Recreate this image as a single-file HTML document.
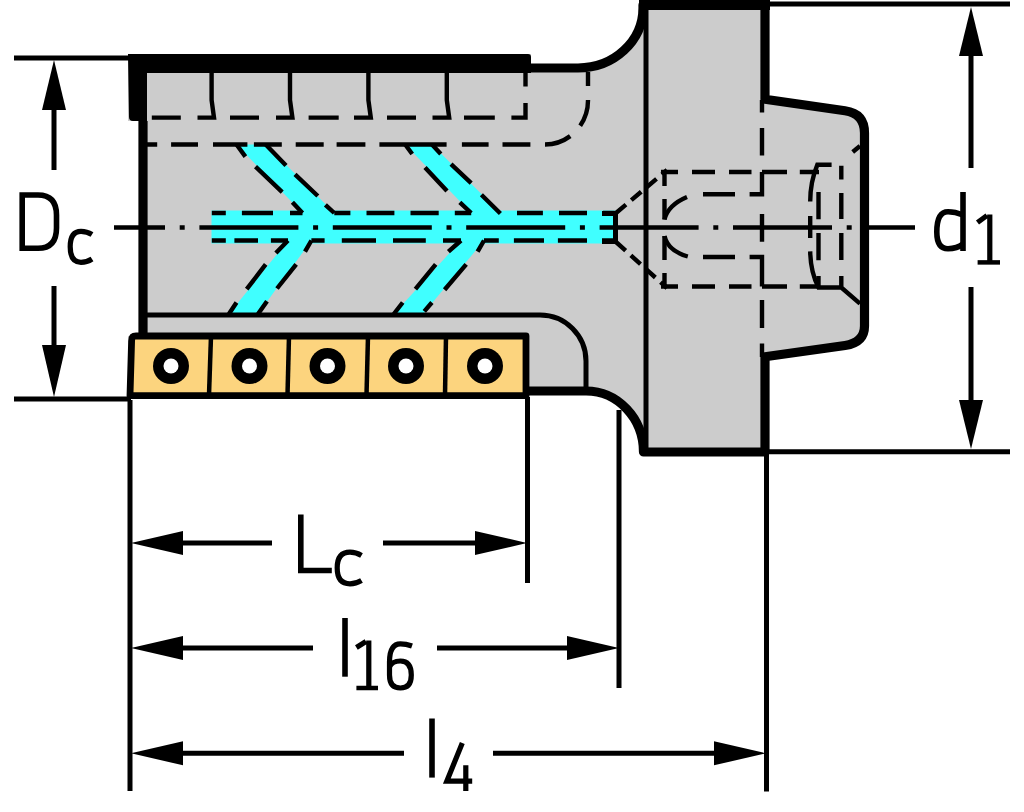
<!DOCTYPE html>
<html><head><meta charset="utf-8"><style>
html,body{margin:0;padding:0;background:#fff;width:1024px;height:812px;overflow:hidden}
svg{display:block}

</style></head><body><div id="w">
<svg width="1024" height="812" viewBox="0 0 1024 812">
<!-- body fill -->
<path fill="#cccccc" d="M128,54 H531 V64 H578 A65,60 0 0 0 643,4 V0 H769 V97 L845,107.7 Q868.5,110 868.5,133 V326 Q868.5,346 845,348 L769,355 V456 H643.5 A57.5,61 0 0 0 586,391 H527 V395 H131 L128,336 H139 V121 H128 Z"/>
<!-- coolant cyan -->
<g fill="#40ffff">
<rect x="211.5" y="210.5" width="404" height="33"/>
<polygon points="236.5,144.5 265.7,144.5 334.3,213 302.5,213"/>
<polygon points="288,240.5 311.4,240.5 258,314 229,314"/>
<polygon points="405.2,144.5 432,144.5 500.4,213 471.2,213"/>
<polygon points="461,240.5 484,240.5 423,314 393.8,314"/>
</g>
<!-- inserts -->
<rect x="131" y="336" width="395" height="59" fill="#fcd47e"/>

<!-- dashed lines (explicit segments) -->
<g fill="none" stroke="#000" stroke-width="4.4">
<path d="M146.4,144.5 H157.2 M171.1,144.5 H198 M213,144.5 H247.4 M253.9,144.5 H281.8 M295.7,144.5 H323.7 M336.6,144.5 H365.4 M379.4,144.5 H446.6 M461.9,144.5 H488.6 M502.5,144.5 H530.4"/>
<path d="M545,144.5 A43,44 0 0 0 588,100.5 V72" stroke-dasharray="27 14.4 27.4 14 14"/>
<path d="M211.8,213 H225.8 M241.9,213 H273 M290,213 H302.5 M334.3,213 H350.4 M366.5,213 H394.4 M410.5,213 H438.7 M454.8,213 H471.2 M517,213 H542.9 M559,213 H587 M603,213 H614.8"/>
<path d="M211.8,240.5 H225.8 M234.4,240.5 H258 M270.9,240.5 H288 M311.4,240.5 H324.6 M341.8,240.5 H376 M393,240.5 H425.8 M443,240.5 H461 M484,240.5 H498.8 M513.9,240.5 H544 M557.9,240.5 H587 M602,240.5 H614.8"/>
<path d="M236.5,144.5 L245.4,156.6 M255.5,166.7 L282.2,192.1 M292.4,202.3 L302.5,213"/>
<path d="M265.7,144.5 L286,165.5 M295,174.4 L317.8,196 M325.4,204.8 L334.3,213"/>
<path d="M288,240.5 L275.9,253 M265.7,264.4 L246.7,289.2 M236.5,302.5 L228.9,314"/>
<path d="M311.4,240.5 L305,251.7 M296.2,264.4 L277,288.5 M267,301.2 L258,314"/>
<path d="M405.2,144.5 L412.2,154 M425,167.4 L447,190.9 M459.8,202.3 L471.2,213"/>
<path d="M432,144.5 L440.8,154 M451,164.2 L471.2,183.2 M481.4,194.7 L500.4,213.5"/>
<path d="M461,240.5 L448.4,251.7 M435.7,264.4 L415.4,289.2 M402.7,302.5 L393.8,314"/>
<path d="M484,240.5 L477.6,251.7 M466.2,264.4 L444.6,289.8 M431.9,302.5 L424.3,311.4"/>
<path d="M762,100 V112.4 M762,128 V155.5 M762,214 V241.7 M762,300 V328 M762,343.5 V357"/>
<path d="M616,213 L667,170" stroke-dasharray="13 7"/>
<path d="M616,242 L667,288" stroke-dasharray="13 7"/>
<path d="M661,172 H678 M692,172 H715 M729,172 H751.5 M762,172 H787 M799.8,172 H819 M661,286.5 H678 M692,286.5 H715 M729,286.5 H751.5 M762,286.5 H787 M799.8,286.5 H819"/>
<path d="M664.5,170 V186 M664.5,199 V219.5 M664.5,236 V260 M664.5,273 V287.6"/>
<path d="M703,194.3 H735 M749.6,194.3 H762 V172 M703,257 H735 M749.6,257 H762 V286.5"/>
<path d="M841.3,165.8 V179.4 M841.3,193 V219 M841.3,233 V260 M841.3,276 V286.5"/>
<path d="M818.5,192 V219.3 M818.5,233 V260.3 M818.5,276 V286.5"/>
<!-- pockets -->
<path d="M151.8,117.6 H180.8 M197.5,117.6 H214 L211.6,100 V73"/>
<path d="M230,117.6 H259 M276,117.6 H292.4 L290,100 V73"/>
<path d="M308.6,117.6 H338.7 M354,117.6 H370.8 L368.4,100 V73"/>
<path d="M387,117.6 H416 M432.5,117.6 H449.2 L446.8,100 V73"/>
<path d="M464,117.6 H494.8 M511.4,117.6 H525.5 V103 M525.5,86.5 V73"/>
<path d="M664.5,219.5 Q668,205 687,197 M664.5,236 Q668,251 687.8,256.5"/>
<path d="M831.6,164.8 H817.3 Q810.2,182 810.2,201.4 M810.2,216 V238 M810.2,251.4 Q810.5,272 818.5,287.5 H841.3 L860,303.6"/>
<path d="M852.7,152 L860,146"/>
</g>
<!-- thin lines -->
<g fill="none" stroke="#000" stroke-width="5">
<path d="M147,315 H540 A46,46 0 0 1 586,361 V390"/>
<path d="M646,10 V451"/>
<path d="M602,213.5 H615.5 V241.5 H602"/>
</g>
<!-- centerline -->
<path d="M114,227.6 H915" stroke="#000" stroke-width="4.5" stroke-dasharray="99 14.7 5 14.7" stroke-dashoffset="48" fill="none"/>
<!-- thick outline -->
<g fill="none" stroke="#000" stroke-width="9.2" stroke-linejoin="round">
<path d="M529,68 H578 A65,60 0 0 0 643,8 V5 H765 V99.3 L845,110.7 Q864.5,113.5 864.5,133 V326 Q864.5,342.5 845,345.5 L765,356.8 V452 H643.5 A57.5,61 0 0 0 586,391 H527"/>
<path d="M143,121 V336"/>
</g>
<rect x="639" y="0" width="131" height="10" fill="#000"/>
<path fill="#000" d="M128,54 H528 Q531,54 531,57 V73 H147 V121 H133 Q129,121 129,117 Z"/>
<!-- insert outline -->
<path d="M526,336 H136 Q131.6,336 131.6,341 L130,395.7 H526 Z" fill="none" stroke="#000" stroke-width="6.8" stroke-linejoin="round"/>
<g stroke="#000" stroke-width="4.5">
<line x1="211" y1="336" x2="209" y2="395"/>
<line x1="289" y1="336" x2="287.5" y2="395"/>
<line x1="368" y1="336" x2="366.5" y2="395"/>
<line x1="446" y1="336" x2="445" y2="395"/>
</g>
<g fill="#000">
<circle cx="171" cy="366" r="18"/><circle cx="249.5" cy="366" r="18"/><circle cx="327.5" cy="366" r="18"/><circle cx="406" cy="366" r="18"/><circle cx="485" cy="366" r="18"/>
</g>
<g fill="#fff">
<circle cx="171" cy="366" r="7.5"/><circle cx="249.5" cy="366" r="7.5"/><circle cx="327.5" cy="366" r="7.5"/><circle cx="406" cy="366" r="7.5"/><circle cx="485" cy="366" r="7.5"/>
</g>

<!-- dimension lines -->
<g fill="none" stroke="#000" stroke-width="5">
<path d="M14,58 H130 M14,399 H131"/>
<path d="M54,100 V170 M54,286 V360"/>
<path d="M767,4 H1010 M765,451.7 H1010"/>
<path d="M971,50 V168 M971,287 V410"/>
<path d="M130,400 V791 M527.5,397 V583 M619,410 V688 M766.5,451 V791.4"/>
<path d="M180,543 H272 M383,543 H480"/>
<path d="M180,648 H313 M437,648 H572"/>
<path d="M180,753.3 H404 M493,753.3 H718"/>
</g>
<g fill="#000">
<polygon points="54,60 42,110 66,110"/>
<polygon points="54,397 42,345 66,345"/>
<polygon points="971,7 959,56 983,56"/>
<polygon points="971,449 959,400 983,400"/>
<polygon points="131,543 183,531 183,555"/>
<polygon points="527,543 475,531 475,555"/>
<polygon points="131,648 183,636 183,660"/>
<polygon points="619,648 567,636 567,660"/>
<polygon points="131,753.3 183,741.3 183,765.3"/>
<polygon points="766,753.3 714,741.3 714,765.3"/>
</g>
<!-- labels -->
<g fill="none" stroke="#000" stroke-linecap="butt" stroke-linejoin="miter">
<g stroke-width="5.6">
<path d="M22.2,195 V248.3 H38 Q56.5,248.3 56.5,228 V215 Q56.5,195 38,195 Z"/>
<path d="M963,192 V251"/>
<path d="M963,215 Q955,211.8 948,211.8 Q936.8,211.8 936.8,232 Q936.8,248.7 948,248.7 Q957,248.7 963,244"/>
<path d="M300.8,514.6 V570.5 H331.8"/>
<path d="M345,618 V676.7"/>
<path d="M432,718.5 V777.6"/>
</g>
<g stroke-width="5.2">
<path d="M92,234.5 Q87,231.3 81,231.3 Q70.2,231.3 70.2,246.8 Q70.2,262.3 81,262.3 Q87,262.3 92,259"/>
<path d="M361.5,555.5 Q356,552.2 350,552.2 Q337.2,552.2 337.2,568 Q337.2,583.8 350,583.8 Q356,583.8 361.5,580.5"/>
<path d="M989.8,214.6 V262.5 M987,215.5 L977.5,222.5"/>
<path d="M368.8,640.4 V688 M366,641.5 L356.4,647.5"/>
<path d="M412,646 Q406,643.8 400.4,643.8 Q389.5,643.8 389.5,662 V675 Q389.5,688 400.4,688 Q411.3,688 411.3,675 Q411.3,661 400.4,661 Q392,661 389.5,667"/>
<path d="M462.3,743 L446.8,781.2 H472.2 M465.8,765.3 V791"/>
</g>
<g stroke-width="4.5">
<path d="M977.6,262.4 H1000"/>
<path d="M356.4,688 H378"/>
</g>
</g>
</svg></div>
</body></html>
